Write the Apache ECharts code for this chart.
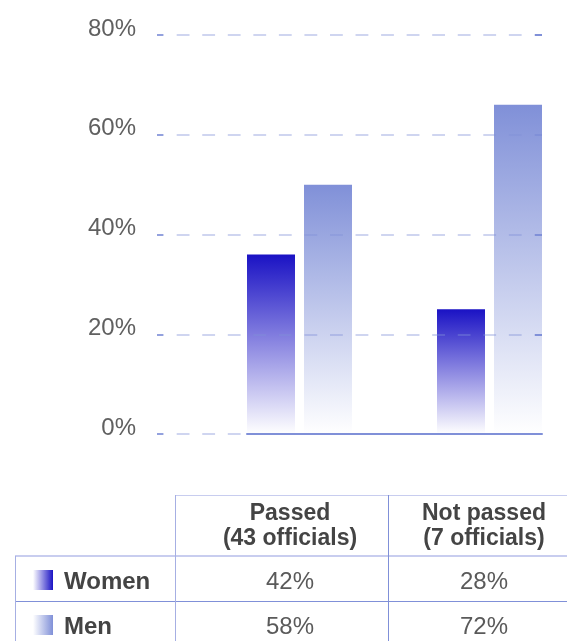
<!DOCTYPE html>
<html>
<head>
<meta charset="utf-8">
<title>Officials by outcome and gender</title>
<script src="https://cdn.jsdelivr.net/npm/echarts@6/dist/echarts.min.js"></script>
<style>
  html, body { margin: 0; padding: 0; background: #ffffff; }
  #chart { width: 567px; height: 641px; }
</style>
</head>
<body>
<div id="chart"></div>
<script>
// Outcome groups along the x axis
const categories = ['Passed', 'Not passed'];
const groupCounts = ['(43 officials)', '(7 officials)'];

// Bar heights, percent
const womenValues = [36, 25];
const menValues = [50, 66];

// Table figures under the chart
const rowNames = ['Women', 'Men'];
const womenShares = ['42%', '28%'];
const menShares = ['58%', '72%'];

// Value axis
const yMin = 0;
const yMax = 80;
const yStep = 20;

const WOMEN_COLOR = '#1a12c4';
const MEN_COLOR = '#8090d8';
const LINE_DARK = '#8090d8';
const LINE_LIGHT = '#c8cdef';
const TEXT_DARK = '#444444';
const TEXT_MID = '#5a5a5a';
const FONT = '"Liberation Sans", Arial, sans-serif';

const chart = echarts.init(document.getElementById('chart'), null, { renderer: 'canvas' });

function vGrad(color) {
  return new echarts.graphic.LinearGradient(0, 0, 0, 1, [
    { offset: 0, color: color },
    { offset: 1, color: '#ffffff' }
  ]);
}
function hGrad(color) {
  return new echarts.graphic.LinearGradient(0, 0, 1, 0, [
    { offset: 0, color: '#ffffff' },
    { offset: 1, color: color }
  ]);
}

function txt(text, x, y, opts) {
  return {
    type: 'text',
    silent: true,
    z: 10,
    style: Object.assign({
      text: text,
      x: x,
      y: y,
      fill: TEXT_MID,
      font: 'normal 24px ' + FONT,
      align: 'center',
      textAlign: 'center',
      verticalAlign: 'middle',
      textVerticalAlign: 'middle'
    }, opts || {})
  };
}
function hline(x1, x2, y, color, w) {
  return { type: 'line', silent: true, z: 9,
    shape: { x1: x1, y1: y, x2: x2, y2: y },
    style: { stroke: color, lineWidth: w || 1 } };
}
function vline(x, y1, y2, color, w) {
  return { type: 'line', silent: true, z: 9,
    shape: { x1: x, y1: y1, x2: x, y2: y2 },
    style: { stroke: color, lineWidth: w || 1 } };
}

// Table layout
const colCenters = [290, 484];
const headerLine1Y = 514;
const headerLine2Y = 539;
const rowY = [582, 627];

const tableGraphics = [
  hline(175, 567, 495.5, LINE_LIGHT, 1),
  hline(15, 567, 556, LINE_LIGHT, 2),
  hline(15, 567, 601.5, LINE_DARK, 1),
  vline(175.5, 495, 641, '#a6afe3', 1),
  vline(388.5, 495, 641, LINE_DARK, 1),
  vline(15.5, 556, 641, '#a6afe3', 1)
];
categories.forEach(function (c, i) {
  tableGraphics.push(txt(c, colCenters[i], headerLine1Y, { font: 'bold 23px ' + FONT, fill: TEXT_DARK }));
  tableGraphics.push(txt(groupCounts[i], colCenters[i], headerLine2Y, { font: 'bold 23px ' + FONT, fill: TEXT_DARK }));
  tableGraphics.push(txt(womenShares[i], colCenters[i], rowY[0]));
  tableGraphics.push(txt(menShares[i], colCenters[i], rowY[1]));
});
const rowColors = [WOMEN_COLOR, MEN_COLOR];
rowNames.forEach(function (n, i) {
  tableGraphics.push({
    type: 'rect', silent: true, z: 10,
    shape: { x: 33, y: rowY[i] - 12, width: 20, height: 20 },
    style: { fill: hGrad(rowColors[i]) }
  });
  tableGraphics.push(txt(n, 64, rowY[i], {
    font: 'bold 24px ' + FONT, fill: TEXT_DARK, align: 'left', textAlign: 'left'
  }));
});

const option = {
  backgroundColor: '#ffffff',
  animation: false,
  grid: [
    // value scale with labels and dashed guides
    { left: 157, right: 25, top: 35, bottom: 207, containLabel: false },
    // bars: one group centred on each edge of this grid
    { left: 299.5, right: 77.5, top: 35, bottom: 207, containLabel: false },
    // baseline under the bars
    { left: 247, width: 295, top: 35, bottom: 207, containLabel: false }
  ],
  xAxis: [
    { gridIndex: 0, type: 'category', data: categories, show: false },
    { gridIndex: 1, type: 'category', data: categories, boundaryGap: false, show: false },
    {
      gridIndex: 2, type: 'category', data: categories, z: 6,
      axisLine: { show: true, lineStyle: { color: LINE_DARK, width: 2 } },
      axisTick: { show: false }, axisLabel: { show: false }, splitLine: { show: false }
    }
  ],
  yAxis: [
    {
      gridIndex: 0, type: 'value', min: yMin, max: yMax, interval: yStep,
      z: 5,
      axisLine: { show: false },
      axisTick: { show: true, inside: true, length: 6, lineStyle: { color: LINE_DARK, width: 1.5 } },
      axisLabel: {
        show: true, margin: 21,
        formatter: '{value}%',
        color: '#606060', fontFamily: FONT, fontSize: 24,
        verticalAlign: 'bottom',
        lineHeight: 12
      },
      splitLine: {
        show: true,
        lineStyle: {
          color: 'rgba(128,144,216,0.5)', width: 1.5,
          type: [12.8, 12.75], dashOffset: 5.85
        }
      }
    },
    { gridIndex: 1, type: 'value', min: yMin, max: yMax, interval: yStep, show: false },
    { gridIndex: 2, type: 'value', min: yMin, max: yMax, interval: yStep, show: false },
    {
      gridIndex: 0, type: 'value', position: 'right', min: yMin, max: yMax, interval: yStep,
      z: 5,
      axisLine: { show: false },
      axisTick: { show: true, inside: true, length: 7, lineStyle: { color: LINE_DARK, width: 2 } },
      axisLabel: { show: false },
      splitLine: { show: false }
    }
  ],
  series: [
    {
      name: 'Women', type: 'bar', xAxisIndex: 1, yAxisIndex: 1,
      barWidth: 48, barGap: '18.75%', clip: false,
      data: womenValues,
      itemStyle: { color: vGrad(WOMEN_COLOR) },
      silent: true
    },
    {
      name: 'Men', type: 'bar', xAxisIndex: 1, yAxisIndex: 1,
      barWidth: 48, barGap: '18.75%', clip: false,
      data: menValues,
      itemStyle: { color: vGrad(MEN_COLOR) },
      silent: true
    }
  ],
  graphic: tableGraphics
};

chart.setOption(option);
</script>
</body>
</html>
